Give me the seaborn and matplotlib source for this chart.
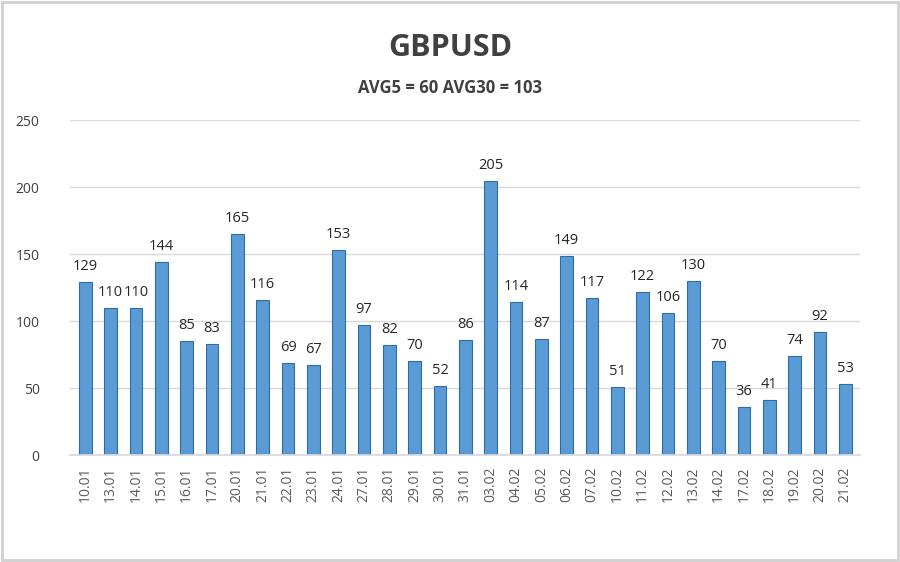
import matplotlib
matplotlib.use("Agg")
import matplotlib.pyplot as plt
import seaborn as sns
import pandas as pd

dates = ["10.01", "13.01", "14.01", "15.01", "16.01", "17.01", "20.01", "21.01",
         "22.01", "23.01", "24.01", "27.01", "28.01", "29.01", "30.01", "31.01",
         "03.02", "04.02", "05.02", "06.02", "07.02", "10.02", "11.02", "12.02",
         "13.02", "14.02", "17.02", "18.02", "19.02", "20.02", "21.02"]
values = [129, 110, 110, 144, 85, 83, 165, 116, 69, 67, 153, 97, 82, 70, 52, 86,
          205, 114, 87, 149, 117, 51, 122, 106, 130, 70, 36, 41, 74, 92, 53]
yticks = [0, 50, 100, 150, 200, 250]

df = pd.DataFrame({"date": dates, "value": values})

sns.set_theme(style="white")
plt.rcParams["font.family"] = ["Open Sans", "DejaVu Sans"]

fig = plt.figure(figsize=(9, 5.62), dpi=100)
ax = fig.add_axes([0.078, 0.19, 0.878, 0.596])

sns.barplot(data=df, x="date", y="value", color="#5b9bd5", width=0.5,
            edgecolor="#2e6da4", linewidth=0.8, saturation=1, ax=ax)

for i, v in enumerate(values):
    ax.text(i, v + 6, str(v), ha="center", va="bottom", fontsize=10.5, color="#262626")

ax.set_ylim(0, 250)
ax.set_xlim(-0.6, 30.6)
ax.set_yticks(yticks)
ax.yaxis.grid(True, color="#d9d9d9", linewidth=1)
ax.set_axisbelow(True)
for s in ["top", "right", "left"]:
    ax.spines[s].set_visible(False)
ax.spines["bottom"].set_color("#d9d9d9")
ax.set_xlabel("")
ax.set_ylabel("")
ax.tick_params(axis="x", rotation=90, labelsize=10, colors="#595959", length=0, pad=8)
ax.tick_params(axis="y", labelsize=10, colors="#404040", length=0, pad=22)

fig.text(0.5, 0.915, "GBPUSD", ha="center", va="center", fontsize=22,
         fontweight="bold", color="#404040")
fig.text(0.5, 0.843, "AVG5 = 60 AVG30 = 103", ha="center", va="center",
         fontsize=12, fontweight="bold", color="#404040")

border = plt.Rectangle((0.002, 0.003), 0.996, 0.994, transform=fig.transFigure,
                       fill=False, edgecolor="#d0d0d0", linewidth=2)
fig.patches.append(border)

fig.savefig("out.png", dpi=100)
